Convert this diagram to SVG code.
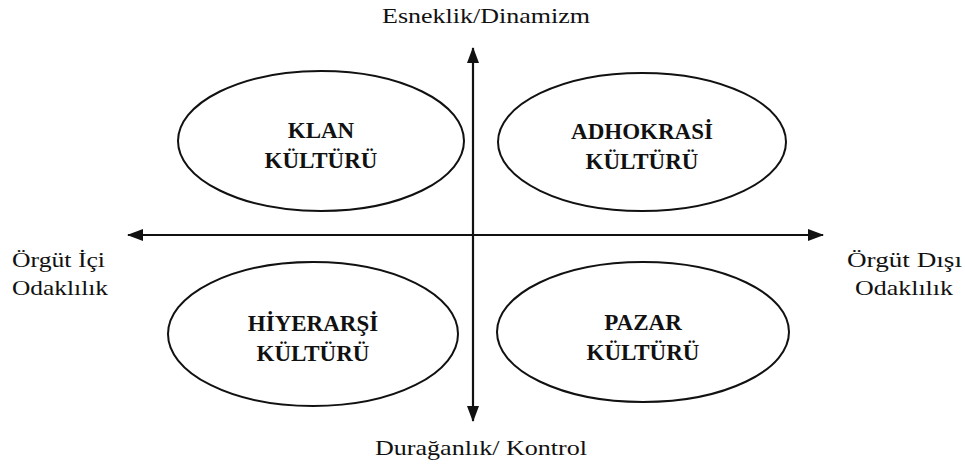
<svg xmlns="http://www.w3.org/2000/svg" width="965" height="470" viewBox="0 0 965 470">
<style>
.e{fill:none;stroke:#111;stroke-width:2}
.t{font-family:"Liberation Serif","Times New Roman",serif;font-weight:bold;font-size:23px;fill:#111;text-anchor:middle}
.l{font-family:"Liberation Serif","Times New Roman",serif;font-size:22px;fill:#111}
.ax{stroke:#111;stroke-width:2.2;fill:none}
</style>
<defs>
<marker id="ah" viewBox="0 0 16 12" refX="15" refY="6" markerWidth="16" markerHeight="12" markerUnits="userSpaceOnUse" orient="auto">
<path d="M0,0 L16,6 L0,12 Z" fill="#111"/>
</marker>
</defs>
<rect width="965" height="470" fill="#fff"/>
<g id="connectors">
<line class="ax" x1="473" y1="236" x2="473" y2="48" marker-end="url(#ah)"/>
<line class="ax" x1="473" y1="236" x2="473" y2="421" marker-end="url(#ah)"/>
<line class="ax" x1="473" y1="235" x2="128" y2="235" marker-end="url(#ah)"/>
<line class="ax" x1="473" y1="235" x2="823" y2="235" marker-end="url(#ah)"/>
</g>
<g id="klan">
<ellipse class="e" cx="321" cy="141" rx="143" ry="70"/>
<text class="t" x="321" y="138">KLAN</text>
<text class="t" x="321" y="168">KÜLTÜRÜ</text>
</g>
<g id="adhokrasi">
<ellipse class="e" cx="642" cy="142" rx="144" ry="69"/>
<text class="t" x="642" y="139">ADHOKRASİ</text>
<text class="t" x="642" y="169">KÜLTÜRÜ</text>
</g>
<g id="hiyerarsi">
<ellipse class="e" cx="313" cy="334" rx="145" ry="72"/>
<text class="t" x="313" y="331">HİYERARŞİ</text>
<text class="t" x="313" y="361">KÜLTÜRÜ</text>
</g>
<g id="pazar">
<ellipse class="e" cx="643" cy="332" rx="146" ry="70"/>
<text class="t" x="643" y="330">PAZAR</text>
<text class="t" x="643" y="360">KÜLTÜRÜ</text>
</g>
<g id="labels">
<text class="l" x="382" y="23" textLength="208" lengthAdjust="spacingAndGlyphs">Esneklik/Dinamizm</text>
<text class="l" x="375" y="455" textLength="212" lengthAdjust="spacingAndGlyphs">Durağanlık/ Kontrol</text>
<text class="l" x="12" y="267" textLength="93" lengthAdjust="spacingAndGlyphs">Örgüt İçi</text>
<text class="l" x="12" y="295" textLength="96" lengthAdjust="spacingAndGlyphs">Odaklılık</text>
<text class="l" x="847" y="267" textLength="115" lengthAdjust="spacingAndGlyphs">Örgüt Dışı</text>
<text class="l" x="855" y="295" textLength="98" lengthAdjust="spacingAndGlyphs">Odaklılık</text>
</g>
</svg>
